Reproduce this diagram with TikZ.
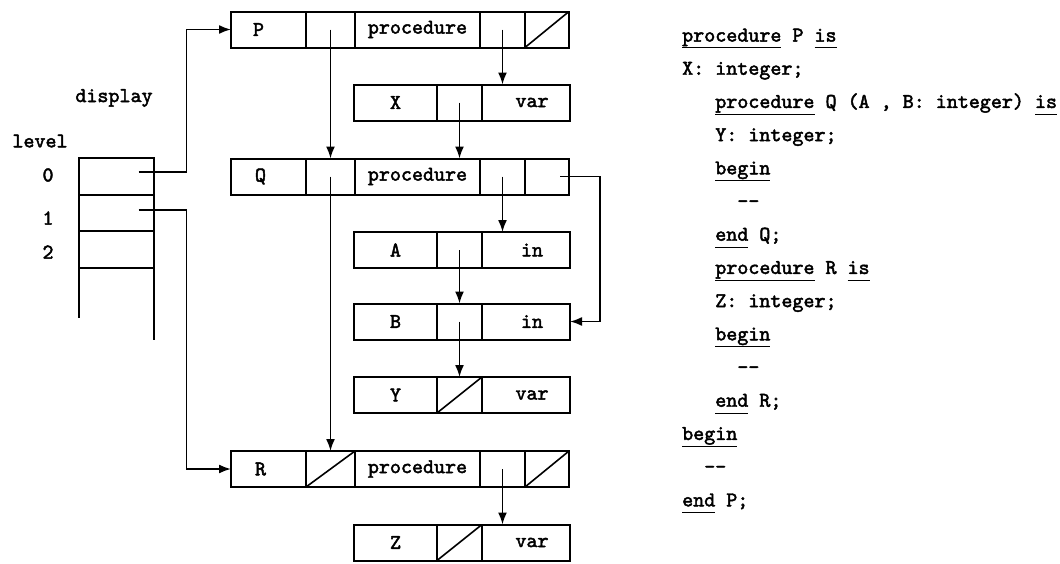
\documentclass[tikz,border=0pt]{standalone}
\usepackage{fontspec}
\setmonofont{lmmono10-regular.otf}[FakeBold=2.2]
\usetikzlibrary{positioning,arrows.meta,calc}

\newcommand\kwd[1]{\underline{#1\vphantom{p}}}

\begin{document}
\begin{tikzpicture}[
  x=1pt, y=-1pt,
  every node/.style={font=\ttfamily\fontsize{21}{24}\selectfont},
  cell/.style={draw, line width=2pt, minimum height=36pt, inner sep=0pt, outer sep=0pt},
  bigname/.style={cell, minimum width=75pt},
  biglink/.style={cell, minimum width=49pt},
  bigkind/.style={cell, minimum width=125pt},
  bigptr/.style={cell, minimum width=45pt},
  bignext/.style={cell, minimum width=44pt},
  smallname/.style={cell, minimum width=83pt},
  smalllink/.style={cell, minimum width=45pt},
  smallkind/.style={cell, minimum width=88pt},
  nil/.style={path picture={\draw[line width=1.6pt] (path picture bounding box.south west) -- (path picture bounding box.north east);}},
  slot/.style={draw, line width=2pt, minimum width=75pt, minimum height=36.7pt, inner sep=0pt, outer sep=0pt},
  ptr/.style={-{Latex[length=12pt,width=9pt]}, line width=1.8pt},
  code/.style={align=left, inner sep=0pt, font=\ttfamily\fontsize{21}{33.2}\selectfont}
]
\useasboundingbox (0,0) rectangle (1060,563);

% display
\node[slot] (d0) at (116.5,176.3) {};
\node[slot,below=0pt of d0] (d1) {};
\node[slot,below=0pt of d1] (d2) {};
\draw[line width=2pt] (d2.south west) -- ++(0,50);
\draw[line width=2pt] (d2.south east) -- ++(0,72);
\node (disp) at (114,98) {display};
\node (lvl) at (40,141) {level};
\node (l0) at (48,175) {0};
\node (l1) at (48,218) {1};
\node (l2) at (48,252) {2};

% procedure records
\node[bigname] (pn) at (268.5,29.5) {P\hspace*{20pt}};
\node[biglink,right=0pt of pn] (pl) {};
\node[bigkind,right=0pt of pl] (pk) {procedure};
\node[bigptr,right=0pt of pk] (pc) {};
\node[bignext,nil,right=0pt of pc] (pe) {};

\node[bigname] (qn) at (268.5,176.5) {Q\hspace*{16pt}};
\node[biglink,right=0pt of qn] (ql) {};
\node[bigkind,right=0pt of ql] (qk) {procedure};
\node[bigptr,right=0pt of qk] (qc) {};
\node[bignext,right=0pt of qc] (qe) {};

\node[bigname] (rn) at (268.5,469) {R\hspace*{16pt}};
\node[biglink,nil,right=0pt of rn] (rl) {};
\node[bigkind,right=0pt of rl] (rk) {procedure};
\node[bigptr,right=0pt of rk] (rc) {};
\node[bignext,nil,right=0pt of rc] (re) {};

% object records
\node[smallname] (xn) at (395.5,102.5) {X};
\node[smalllink,right=0pt of xn] (xl) {};
\node[smallkind,right=0pt of xl] (xk) {\hspace*{12pt}var};

\node[smallname] (an) at (395.5,250) {A};
\node[smalllink,right=0pt of an] (al) {};
\node[smallkind,right=0pt of al] (ak) {\hspace*{12pt}in};

\node[smallname] (bn) at (395.5,321.5) {B};
\node[smalllink,right=0pt of bn] (bl) {};
\node[smallkind,right=0pt of bl] (bk) {\hspace*{12pt}in};

\node[smallname] (yn) at (395.5,395) {Y};
\node[smalllink,nil,right=0pt of yn] (yl) {};
\node[smallkind,right=0pt of yl] (yk) {\hspace*{12pt}var};

\node[smallname] (zn) at (395.5,542.5) {Z};
\node[smalllink,nil,right=0pt of zn] (zl) {};
\node[smallkind,right=0pt of zl] (zk) {\hspace*{12pt}var};

% pointers
\draw[ptr] ([xshift=22pt,yshift=4pt]d0.center) -- ++(48,0) |- (pn.west);
\draw[ptr] ([xshift=22pt,yshift=3pt]d1.center) -- ++(48,0) |- (rn.west);
\draw[ptr] (pl.center) -- (ql.north);
\draw[ptr] (pc.center) -- (pc.center |- xk.north);
\draw[ptr] (xl.center) -- (xl.center |- qk.north);
\draw[ptr] (ql.center) -- (rl.north);
\draw[ptr] (qc.center) -- (qc.center |- ak.north);
\draw[ptr] ([xshift=13pt]qe.center) -- ++(40,0) |- (bk.east);
\draw[ptr] (al.center) -- (bl.north);
\draw[ptr] (bl.center) -- (yl.north);
\draw[ptr] (rc.center) -- (rc.center |- zk.north);

% program text
\node[code,anchor=north west] (listing) at (682,28.5) {%
\kwd{procedure} P \kwd{is}\\
X: integer;\\
\phantom{xxx}\kwd{procedure} Q (A , B: integer) \kwd{is}\\
\phantom{xxx}Y: integer;\\
\phantom{xxx}\kwd{begin}\\
\phantom{xxxxx}--\\
\phantom{xxx}\kwd{end} Q;\\
\phantom{xxx}\kwd{procedure} R \kwd{is}\\
\phantom{xxx}Z: integer;\\
\phantom{xxx}\kwd{begin}\\
\phantom{xxxxx}--\\
\phantom{xxx}\kwd{end} R;\\
\kwd{begin}\\
\phantom{xx}--\\
\kwd{end} P;};

\end{tikzpicture}
\end{document}
